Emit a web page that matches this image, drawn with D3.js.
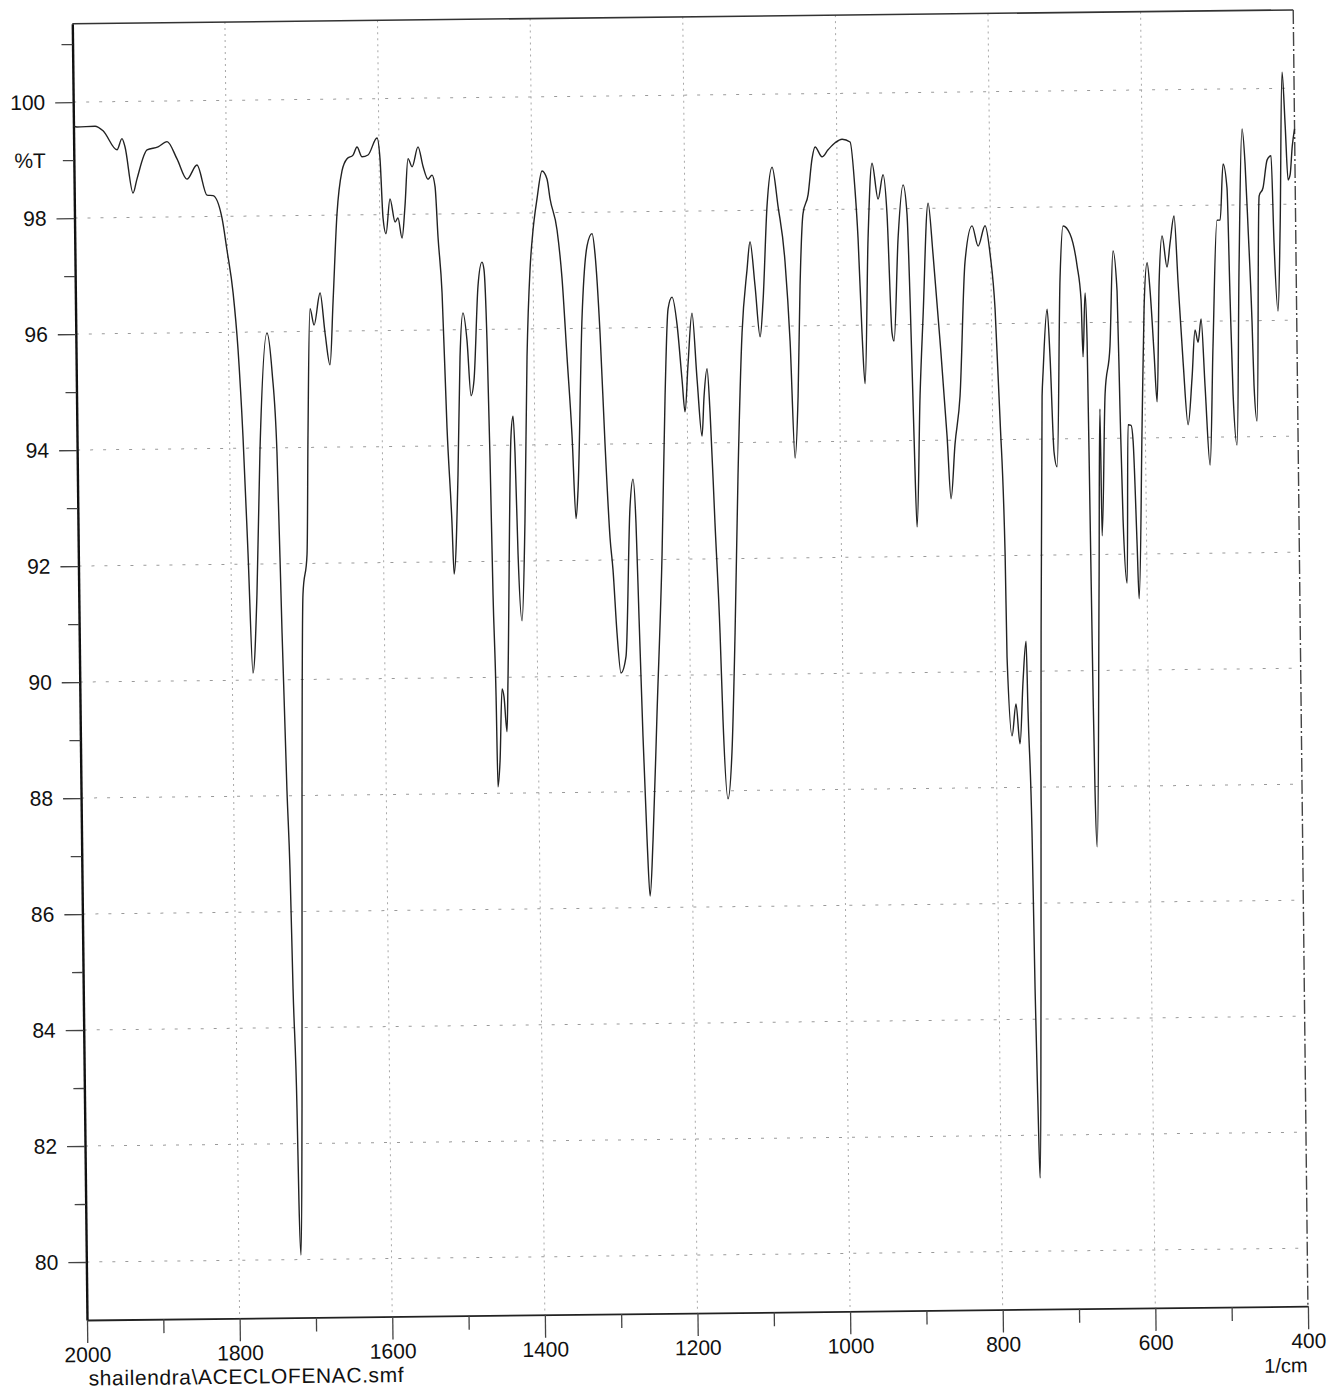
<!DOCTYPE html>
<html><head><meta charset="utf-8">
<script src="https://cdn.jsdelivr.net/npm/d3@7"></script>
<style>
body{margin:0;background:#fff}
svg{display:block}
text{font-family:"Liberation Sans",Arial,Helvetica,sans-serif;fill:#111}
</style>
</head><body>
<svg id="c" width="1329" height="1391"></svg>
<script>
// ---- data (wavenumber in 1/cm, transmittance in %T) ----
const wavenumbers = [
2000,1995.4,1971.8,1961.3,1943.3,1936.6,1932.8,1922.9,1917.6,1903.9,
1889.5,1877.6,1864.8,1852.1,1838.7,1826.0,1818.1,1806.7,1800.7,1793.3,
1787.7,1782.5,1777.6,1772.9,1766.5,1760.5,1749.5,1743.4,1738.2,1734.2,
1730.1,1727.3,1725.1,1721.7,1720.5,1718.7,1715.1,1710.4,1706.2,1700.3,
1697.3,1692.7,1687.7,1679.3,1673.4,1667.4,1662.4,1656.0,1648.8,1642.0,
1634.1,1628.8,1622.3,1614.5,1602.4,1598.8,1595.7,1592.1,1586.3,1580.0,
1576.1,1571.1,1566.8,1562.1,1556.9,1548.8,1542.5,1536.2,1530.9,1527.1,
1523.9,1519.5,1515.0,1509.9,1507.9,1501.3,1496.9,1492.4,1487.5,1483.1,
1478.9,1472.3,1466.7,1464.2,1461.3,1459.1,1457.2,1454.7,1453.6,1450.4,
1446.7,1444.3,1440.9,1438.9,1431.3,1428.3,1426.3,1423.8,1419.6,1414.3,
1409.1,1403.9,1399.3,1393.7,1386.7,1380.3,1376.6,1367.9,1362.1,1356.7,
1351.3,1347.3,1344.3,1336.4,1328.8,1322.1,1318.5,1313.1,1308.2,1303.0,
1299.6,1295.3,1290.7,1283.9,1276.4,1272.1,1268.8,1266.2,1262.8,1259.0,
1255.9,1251.1,1244.0,1235.1,1228.8,1223.6,1218.2,1212.0,1206.3,1202.9,
1198.3,1192.3,1186.6,1181.0,1177.7,1173.4,1170.1,1165.3,1160.3,1157.7,
1152.3,1146.4,1140.6,1134.4,1127.0,1119.6,1115.2,1109.3,1103.4,1099.0,
1092.4,1085.2,1078.0,1069.6,1064.2,1059.4,1054.5,1050.3,1045.4,1038.4,
1032.7,1028.6,1019.6,1011.6,1002.3,993.1,982.6,976.8,973.6,969.8,
966.6,960.5,954.2,946.8,939.9,935.3,930.5,928.0,921.1,913.8,
909.1,906.3,903.2,900.6,894.7,889.6,881.3,875.6,867.7,859.9,
855.6,849.6,842.3,833.8,824.0,816.4,807.0,800.8,795.1,790.2,
785.6,784.6,779.2,773.5,768.9,764.0,759.4,757.9,754.5,752.8,
750.7,749.1,745.2,740.7,734.8,733.1,726.9,723.8,720.0,716.2,
709.5,704.8,695.8,687.0,682.3,680.6,676.9,675.0,673.7,672.4,
671.3,669.4,662.9,659.1,658.3,652.2,645.1,639.7,635.0,632.9,
630.5,626.2,622.5,618.6,616.2,612.5,610.7,604.2,599.8,595.2,
591.7,587.4,584.2,579.8,575.2,569.2,564.8,559.2,554.9,549.5,
543.9,538.0,533.4,529.6,525.3,521.1,515.7,510.1,502.9,498.9,
494.2,489.4,487.0,484.5,480.1,474.8,468.8,465.4,462.4,458.6,
456.9,453.5,447.4,442.2,436.4,431.2,428.6,424.4,420.4,415.5,
412.3,409.3,406.5,403.3,400
];
const transmittance = [
99.59,99.57,99.58,99.50,99.17,99.36,99.22,98.42,98.66,99.16,
99.21,99.30,99.00,98.65,98.89,98.37,98.36,97.97,97.42,96.68,
95.71,94.21,92.18,90.12,91.48,93.93,95.98,95.31,93.93,90.81,
88.08,86.72,84.67,82.61,80.98,80.08,82.62,88.08,91.47,92.16,
94.20,96.39,96.11,96.66,95.97,95.42,96.52,98.02,98.76,98.97,
99.03,99.17,99.00,99.03,99.32,98.96,97.94,97.67,98.27,97.87,
97.94,97.59,98.14,98.96,98.82,99.16,98.82,98.60,98.67,98.47,
97.59,96.64,94.31,92.67,91.79,93.50,95.53,96.29,95.81,94.86,
95.13,96.75,97.16,97.03,95.80,93.77,91.44,89.66,88.11,88.57,
89.80,89.66,89.06,89.93,94.16,94.50,93.88,92.12,90.97,92.66,
95.52,97.02,97.71,98.24,98.72,98.58,98.24,97.70,96.87,95.51,
94.15,92.72,93.20,96.20,97.42,97.63,97.28,95.92,94.00,92.38,
91.83,90.74,90.05,90.33,92.91,93.39,92.63,90.99,88.96,87.18,
86.20,87.18,89.37,92.09,94.82,96.32,96.52,96.04,95.09,94.54,
95.35,96.24,95.09,94.12,94.81,95.28,94.53,92.62,90.72,89.22,
87.86,88.67,90.72,93.44,95.89,96.97,97.46,96.70,95.82,96.44,
98.07,98.74,98.07,97.10,95.74,93.72,94.79,96.69,97.93,98.26,
98.88,99.08,98.91,99.03,99.15,99.21,99.16,98.32,97.50,95.87,
94.99,97.49,98.79,98.17,98.59,97.91,95.86,95.72,97.50,98.41,
97.91,96.41,94.08,92.51,94.77,96.13,98.09,97.21,95.71,94.07,
92.99,93.93,94.76,97.07,97.69,97.34,97.69,97.20,96.25,94.34,
92.03,90.25,88.89,89.44,88.75,89.83,90.52,89.30,87.25,84.52,
82.47,81.26,84.33,89.50,94.74,95.16,96.24,95.42,93.78,93.52,
96.78,97.67,97.53,96.98,96.39,95.41,96.51,95.68,92.68,89.54,
87.94,86.96,91.51,94.51,92.32,94.77,95.59,97.23,96.54,94.51,
92.59,91.50,94.23,94.22,93.95,92.17,91.23,94.22,96.26,97.02,
96.53,95.45,94.62,96.67,97.48,96.94,97.36,97.82,96.67,95.30,
94.22,95.03,95.85,95.64,96.04,94.88,93.52,95.57,97.74,97.74,
98.71,98.29,96.38,94.74,93.86,96.93,99.31,98.71,97.60,95.98,
94.88,94.27,98.15,98.29,98.77,98.84,97.34,96.16,97.59,100.28,
99.37,98.42,98.51,99.0,99.3
];
const yMajorTicks = [80,82,84,86,88,90,92,94,96,98,100];
const yMinorTicks = [81,83,85,87,89,91,93,95,97,99,101];
const xMajorTicks = [2000,1800,1600,1400,1200,1000,800,600,400];
const xMinorTicks = [1900,1700,1500,1300,1100,900,700,500];
const yTitle = "%T";
const xUnit = "1/cm";
const fileName = "shailendra\\ACECLOFENAC.smf";

// ---- layout ----
const L = 87, R = 1308, B = 1320, PX_PER_UNIT = 58;
const yMin = 79, yMax = 101.35;
const x = d3.scaleLinear().domain([2000, 400]).range([L, R]);
const y = d3.scaleLinear().domain([yMin, yMax]).range([B, B - (yMax - yMin) * PX_PER_UNIT]);
const T = y(yMax);

const svg = d3.select("#c");
svg.append("rect").attr("width",1329).attr("height",1391).attr("fill","#fff");
// the scanned sheet is slightly tilted
const g = svg.append("g").attr("transform", "rotate(-0.65," + L + "," + B + ")");

// grid
g.append("g").selectAll("line").data(yMajorTicks).join("line")
  .attr("x1", L).attr("x2", R).attr("y1", d => y(d)).attr("y2", d => y(d))
  .attr("stroke", "#9a9a9a").attr("stroke-width", 1).attr("stroke-dasharray", "3,10");
g.append("g").selectAll("line").data(xMajorTicks.filter(d => d !== 2000 && d !== 400)).join("line")
  .attr("x1", d => x(d)).attr("x2", d => x(d)).attr("y1", T).attr("y2", B)
  .attr("stroke", "#a8a8a8").attr("stroke-width", 1).attr("stroke-dasharray", "2,4");

// frame (top and right)
g.append("line").attr("x1", L).attr("x2", R).attr("y1", T).attr("y2", T)
  .attr("stroke", "#333").attr("stroke-width", 1.6);
g.append("line").attr("x1", R).attr("x2", R).attr("y1", T).attr("y2", B)
  .attr("stroke", "#444").attr("stroke-width", 1.4).attr("stroke-dasharray", "14,3,2,3");

// y axis
const yAxis = g.append("g").attr("transform", `translate(${L},0)`)
  .call(d3.axisLeft(y).tickValues(yMajorTicks).tickSize(18).tickSizeOuter(0).tickPadding(10).tickFormat(d3.format("d")));
const yAxisMinor = g.append("g").attr("transform", `translate(${L},0)`)
  .call(d3.axisLeft(y).tickValues(yMinorTicks).tickSize(11).tickSizeOuter(0).tickFormat(""));
yAxisMinor.select(".domain").remove();
[yAxis, yAxisMinor].forEach(a => {
  a.selectAll(".tick line").attr("stroke", "#444").attr("stroke-width", 1.3);
});
yAxis.select(".domain").attr("stroke", "#111").attr("stroke-width", 2.4);
yAxis.selectAll("text").attr("font-size", 21).attr("fill", "#111");
g.append("text").attr("x", L - 28).attr("y", y(99)).attr("dy", "0.35em")
  .attr("text-anchor", "end").attr("font-size", 21).text(yTitle);

// x axis
const xAxis = g.append("g").attr("transform", `translate(0,${B})`)
  .call(d3.axisBottom(x).tickValues(xMajorTicks).tickSize(23).tickSizeOuter(0).tickPadding(4).tickFormat(d3.format("d")));
const xAxisMinor = g.append("g").attr("transform", `translate(0,${B})`)
  .call(d3.axisBottom(x).tickValues(xMinorTicks).tickSize(14).tickSizeOuter(0).tickFormat(""));
xAxisMinor.select(".domain").remove();
[xAxis, xAxisMinor].forEach(a => {
  a.selectAll(".tick line").attr("stroke", "#444").attr("stroke-width", 1.3);
});
xAxis.select(".domain").attr("stroke", "#222").attr("stroke-width", 1.8);
xAxis.selectAll("text").attr("font-size", 21).attr("fill", "#111");

g.append("text").attr("x", R - 1).attr("y", B + 66)
  .attr("text-anchor", "end").attr("font-size", 20).text(xUnit);
g.append("text").attr("x", L + 1).attr("y", B + 65.5)
  .attr("text-anchor", "start").attr("font-size", 21).attr("letter-spacing", 0.6).text(fileName);

// spectrum
const pts = wavenumbers.map((w, i) => [w, transmittance[i]]);
g.append("path").datum(pts)
  .attr("fill", "none").attr("stroke", "#222").attr("stroke-width", 1.4)
  .attr("stroke-linejoin", "round")
  .attr("d", d3.line().x(d => x(d[0])).y(d => y(d[1])).curve(d3.curveMonotoneX));
</script>
</body></html>
